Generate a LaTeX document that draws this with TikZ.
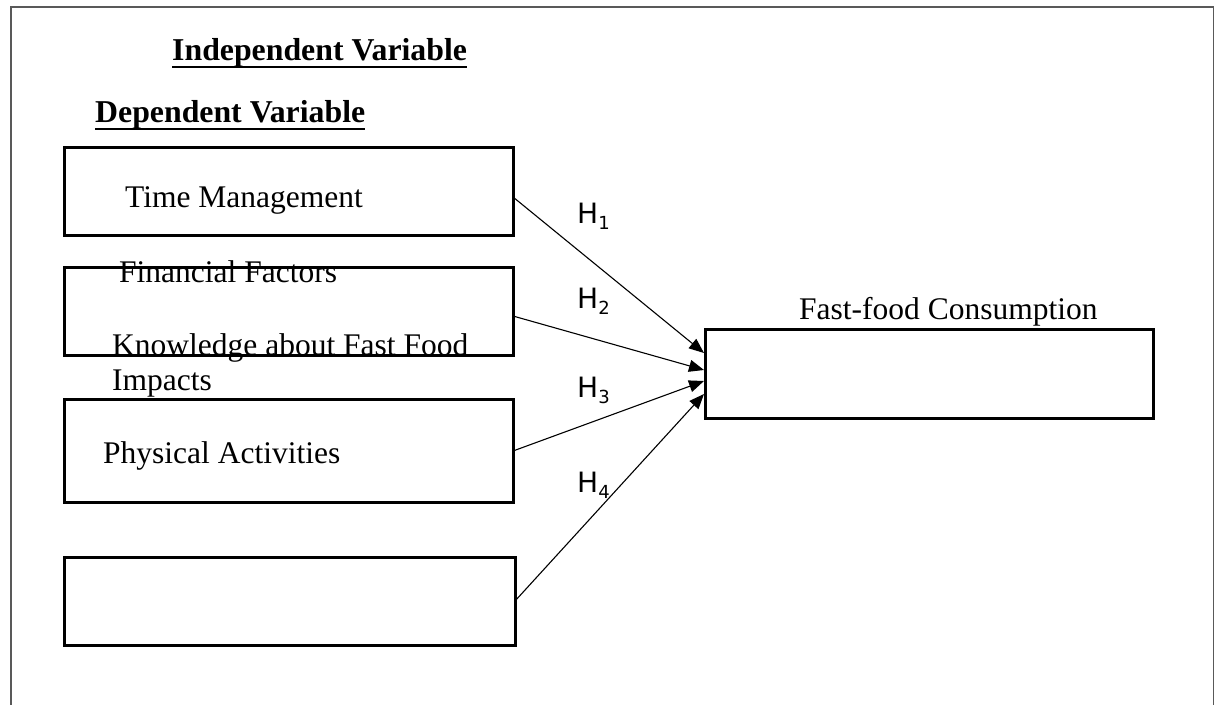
\documentclass[tikz,border=0pt]{standalone}
\usepackage{fontspec}
\setmainfont{Liberation Serif}
\newfontfamily\hfont{DejaVu Sans}
\usetikzlibrary{arrows.meta}
\begin{document}
\begin{tikzpicture}[x=1pt,y=-1pt,
  txt/.style={anchor=base west,inner sep=0pt,font=\fontsize{31.5}{35}\selectfont},
  btxt/.style={txt,font=\fontsize{31.8}{35}\selectfont\bfseries},
  box/.style={draw,line width=3pt},
  hlab/.style={anchor=base west,inner sep=0pt,font=\hfont\fontsize{28}{30}\selectfont},
  sub/.style={},
  arr/.style={line width=1.1pt,-{Triangle[length=15pt,width=12pt]}}]
\useasboundingbox (0,0) rectangle (1215,704);
\draw[line width=1.4pt,draw=black!65] (11,712) -- (11,7) -- (1213.5,7) -- (1213.5,712);
% boxes
\draw[box] (64,147) rectangle (513,235);
\draw[box] (64,267) rectangle (513,355);
\draw[box] (64,399) rectangle (513,502);
\draw[box] (64,557) rectangle (515,645);
\draw[box] (705,329) rectangle (1153,418);
\coordinate (s1) at (513,197);
\coordinate (s2) at (513,316);
\coordinate (s3) at (513,451);
\coordinate (s4) at (515,601);
\coordinate (e1) at (704,353);
\coordinate (e2) at (704,370);
\coordinate (e3) at (704,381);
\coordinate (e4) at (704,394);
% headings
\node[btxt] (iv) at (172,60) {Independent Variable};
\draw[line width=2pt] ([yshift=-7pt]iv.base west) -- ([yshift=-7pt]iv.base east);
\node[btxt] (dv) at (95,122) {Dependent Variable};
\draw[line width=2pt] ([yshift=-7pt]dv.base west) -- ([yshift=-7pt]dv.base east);
% texts
\node[txt] (t1) at (125,207) {Time Management};
\node[txt] (t2) at (119,282) {Financial Factors};
\node[txt] (t3) at (112,355) {Knowledge about Fast Food};
\node[txt] (t3b) at (112,390) {Impacts};
\node[txt] (t4) at (103,463) {Physical Activities};
\node[txt] (t5) at (799,319) {Fast-food Consumption};
% arrows
\draw[arr] (s1) -- (e1);
\draw[arr] (s2) -- (e2);
\draw[arr] (s3) -- (e3);
\draw[arr] (s4) -- (e4);
% labels
\node[hlab] (h1) at (577,223) {H\raisebox{-6pt}{\fontsize{18}{18}\selectfont 1}};
\node[hlab] (h2) at (577,308) {H\raisebox{-6pt}{\fontsize{18}{18}\selectfont 2}};
\node[hlab] (h3) at (577,397) {H\raisebox{-6pt}{\fontsize{18}{18}\selectfont 3}};
\node[hlab] (h4) at (577,492) {H\raisebox{-6pt}{\fontsize{18}{18}\selectfont 4}};
\end{tikzpicture}
\end{document}
